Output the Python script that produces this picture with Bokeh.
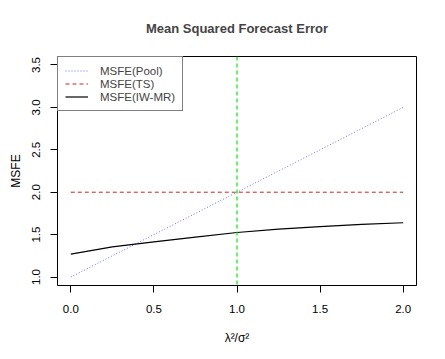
from bokeh.plotting import figure
from bokeh.models import Span, Legend, LegendItem, FixedTicker, Range1d
from bokeh.embed import file_html
from bokeh.resources import INLINE

# data
ratio = [0.0, 0.25, 0.5, 0.75, 1.0, 1.25, 1.5, 1.75, 2.0]
msfe_pool = [1.0, 1.25, 1.5, 1.75, 2.0, 2.25, 2.5, 2.75, 3.0]
msfe_ts = [2.0, 2.0, 2.0, 2.0, 2.0, 2.0, 2.0, 2.0, 2.0]
msfe_iwmr = [1.27, 1.355, 1.415, 1.47, 1.525, 1.565, 1.595, 1.62, 1.64]
vline_at = 1.0
x_ticks = [0.0, 0.5, 1.0, 1.5, 2.0]
y_ticks = [1.0, 1.5, 2.0, 2.5, 3.0, 3.5]
x_tick_labels = ["0.0", "0.5", "1.0", "1.5", "2.0"]
y_tick_labels = ["1.0", "1.5", "2.0", "2.5", "3.0", "3.5"]
title_text = "Mean Squared Forecast Error"
x_label = "λ²/σ²"
y_label = "MSFE"
series_names = ["MSFE(Pool)", "MSFE(TS)", "MSFE(IW-MR)"]

FONT = "Liberation Sans"

p = figure(width=429, height=347, output_backend="svg", toolbar_location=None,
           x_range=Range1d(-0.08, 2.08), y_range=Range1d(0.9, 3.6),
           min_border_left=57, min_border_right=13, min_border_top=56, min_border_bottom=51)

p.title.text = title_text
p.title.align = "center"
p.title.vertical_align = "top"
p.title.text_font = FONT
p.title.text_font_size = "13px"
p.title.text_font_style = "bold"
p.title.standoff = 38

p.background_fill_color = "white"
p.border_fill_color = "white"
p.outline_line_color = "black"
p.outline_line_width = 1
p.xgrid.visible = False
p.ygrid.visible = False

r_pool = p.line(ratio, msfe_pool, line_color="#6f6fff", line_dash="1 2", line_width=1)
r_ts = p.line(ratio, msfe_ts, line_color="#c82828", line_dash="4 3", line_width=1)
r_iw = p.line(ratio, msfe_iwmr, line_color="black", line_width=1.2)

p.add_layout(Span(location=vline_at, dimension="height", line_color="#00ee00",
                  line_dash="4 3", line_width=1.2))

for ax, ticks, labels in ((p.xaxis[0], x_ticks, x_tick_labels), (p.yaxis[0], y_ticks, y_tick_labels)):
    ax.ticker = FixedTicker(ticks=ticks)
    ax.major_label_overrides = {t: l for t, l in zip(ticks, labels)}
    ax.axis_line_color = None
    ax.major_tick_line_color = "black"
    ax.major_tick_out = 7
    ax.major_tick_in = 0
    ax.minor_tick_line_color = None
    ax.major_label_text_font = FONT
    ax.major_label_text_font_size = "11.5px"
    ax.major_label_text_color = "black"
    ax.axis_label_text_font = FONT
    ax.axis_label_text_font_size = "12px"
    ax.axis_label_text_font_style = "normal"
    ax.axis_label_text_color = "black"

p.xaxis[0].axis_label = x_label
p.yaxis[0].axis_label = y_label
p.xaxis[0].major_label_standoff = 12
p.yaxis[0].major_label_standoff = 10
p.yaxis[0].major_label_orientation = "vertical"
p.xaxis[0].axis_label_standoff = 15
p.yaxis[0].axis_label_standoff = 7

legend = Legend(items=[LegendItem(label=series_names[0], renderers=[r_pool]),
                       LegendItem(label=series_names[1], renderers=[r_ts]),
                       LegendItem(label=series_names[2], renderers=[r_iw])],
                location="top_left", margin=0, padding=7, spacing=0,
                label_height=13, glyph_height=13, glyph_width=23, label_standoff=12,
                label_text_font=FONT, label_text_font_size="11.5px",
                border_line_color="black", border_line_width=1,
                background_fill_color="white", background_fill_alpha=1.0)
p.add_layout(legend)

open("out.html", "w").write(file_html(p, INLINE))
